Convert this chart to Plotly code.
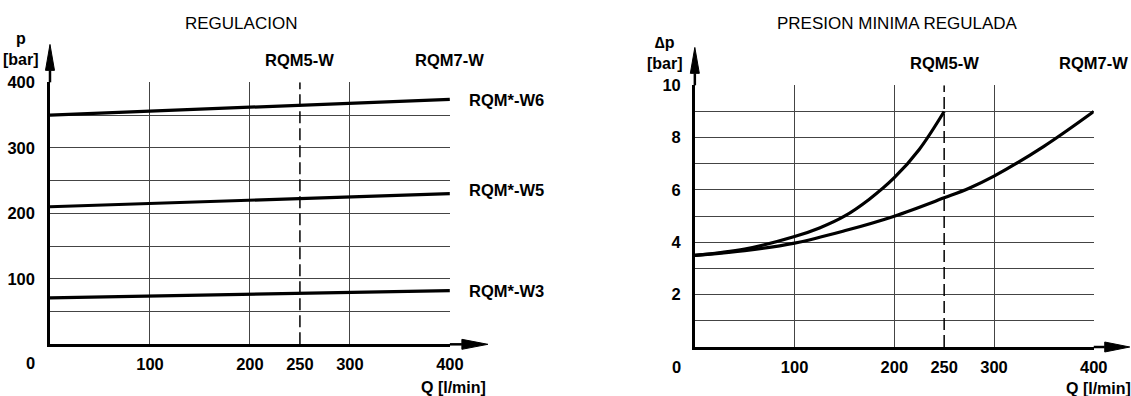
import plotly.graph_objects as go

# ---------------- data ----------------
# Left chart: REGULACION (pressure setting vs flow)
q_reg = [0, 400]
p_w6 = [350, 374]
p_w5 = [210, 230]
p_w3 = [71, 82]
reg_labels = ["RQM*-W6", "RQM*-W5", "RQM*-W3"]

# Right chart: PRESION MINIMA REGULADA
q_rqm5 = [0, 50, 100, 125, 150, 175, 200, 225, 250]
dp_rqm5 = [3.5, 3.74, 4.22, 4.55, 5.0, 5.65, 6.47, 7.55, 9.0]
q_rqm7 = [0, 50, 100, 150, 200, 250, 275, 300, 350, 400]
dp_rqm7 = [3.5, 3.68, 3.97, 4.44, 5.0, 5.7, 6.07, 6.53, 7.67, 9.0]

x_ticks = [100, 200, 250, 300, 400]
x_grid = [100, 200, 300, 400]
y_ticks_left = [100, 200, 300, 400]
y_ticks_right = [2, 4, 6, 8, 10]
q_limit_rqm5 = 250
q_limit_rqm7 = 400

# ---------------- layout helpers ----------------
W, H = 1145, 396
SX, SY, OY = 0.988, 0.981, 7.4   # observed render transform compensation

def fx(x):
    return x / SX

def fy(y):
    return (y - OY) / SY

def px(x):
    return fx(x) / W

def py(y):
    return 1 - fy(y) / H

L_X0, L_X1, L_Y0, L_Y1 = 50, 450, 344, 81      # left plot box (target px)
R_X0, R_X1, R_Y0, R_Y1 = 695, 1094, 346.7, 84  # right plot box (target px)

FONT = "Liberation Sans"
GRID = "#444444"
tickfont = dict(family=FONT, size=16.5, color="black", weight="bold")

fig = go.Figure()

line_style = dict(color="black", width=3.2)
for vals in (p_w6, p_w5, p_w3):
    fig.add_trace(go.Scatter(x=q_reg, y=vals, mode="lines", line=line_style,
                             xaxis="x", yaxis="y", hoverinfo="skip"))

fig.add_trace(go.Scatter(x=q_rqm5, y=dp_rqm5, mode="lines",
                         line=dict(color="black", width=3.2, shape="spline", smoothing=1.0),
                         xaxis="x2", yaxis="y2", hoverinfo="skip"))
fig.add_trace(go.Scatter(x=q_rqm7, y=dp_rqm7, mode="lines",
                         line=dict(color="black", width=3.2, shape="spline", smoothing=1.0),
                         xaxis="x2", yaxis="y2", hoverinfo="skip"))

def xaxis_cfg(x0, x1):
    return dict(domain=[px(x0), px(x1)], range=[0, 400], tickvals=x_ticks,
                ticktext=[str(v) for v in x_ticks], showgrid=False, zeroline=False,
                showline=True, linecolor="black", linewidth=2.5, ticks="",
                ticklabelstandoff=3, tickfont=tickfont, fixedrange=True,
                minor=dict(tickvals=x_grid, showgrid=True, gridcolor=GRID, gridwidth=1, ticks=""))

fig.update_layout(
    width=W, height=H, margin=dict(l=0, r=0, t=0, b=0),
    paper_bgcolor="white", plot_bgcolor="white", showlegend=False,
    xaxis=dict(xaxis_cfg(L_X0, L_X1), anchor="y"),
    yaxis=dict(domain=[py(L_Y0), py(L_Y1)], range=[0, 400], tickvals=y_ticks_left,
               showgrid=True, gridcolor=GRID, gridwidth=1, zeroline=False,
               showline=True, linecolor="black", linewidth=2.5, ticks="",
               ticklabelstandoff=9, tickfont=tickfont, fixedrange=True, anchor="x",
               minor=dict(dtick=50, showgrid=True, gridcolor=GRID, gridwidth=1, ticks="")),
    xaxis2=dict(xaxis_cfg(R_X0, R_X1), anchor="y2"),
    yaxis2=dict(domain=[py(R_Y0), py(R_Y1)], range=[0, 10], tickvals=y_ticks_right,
                showgrid=True, gridcolor=GRID, gridwidth=1, zeroline=False,
                showline=True, linecolor="black", linewidth=2.5, ticks="",
                ticklabelstandoff=8, tickfont=tickfont, fixedrange=True, anchor="x2",
                minor=dict(dtick=1, showgrid=True, gridcolor=GRID, gridwidth=1, ticks="")),
)

shapes = []
# dashed limit lines at 250
shapes.append(dict(type="line", xref="x", yref="y", x0=q_limit_rqm5, x1=q_limit_rqm5,
                   y0=0, y1=400, line=dict(color="black", width=1.5, dash="12px,5px")))
shapes.append(dict(type="line", xref="x2", yref="y2", x0=q_limit_rqm5, x1=q_limit_rqm5,
                   y0=0, y1=10, line=dict(color="black", width=1.5, dash="12px,5px")))

def arrow_up(x, ytop, ybase, ytip):
    shapes.append(dict(type="line", xref="paper", yref="paper", x0=px(x), x1=px(x),
                       y0=py(ytop), y1=py(ybase), line=dict(color="black", width=2.5)))
    path = f"M {px(x-4.5)},{py(ybase)} L {px(x+4.5)},{py(ybase)} L {px(x)},{py(ytip)} Z"
    shapes.append(dict(type="path", xref="paper", yref="paper", path=path,
                       fillcolor="black", line=dict(color="black", width=1)))

def arrow_right(y, xend, xbase, xtip):
    shapes.append(dict(type="line", xref="paper", yref="paper", x0=px(xend), x1=px(xbase),
                       y0=py(y), y1=py(y), line=dict(color="black", width=2.5)))
    path = f"M {px(xbase)},{py(y-5)} L {px(xbase)},{py(y+5)} L {px(xtip)},{py(y)} Z"
    shapes.append(dict(type="path", xref="paper", yref="paper", path=path,
                       fillcolor="black", line=dict(color="black", width=1)))

arrow_up(L_X0, L_Y1, 69, 43)
arrow_right(L_Y0, L_X1, 462, 488)
arrow_up(R_X0, R_Y1, 72, 46)
arrow_right(R_Y0, R_X1, 1105, 1130)
fig.update_layout(shapes=shapes)

ann = []
def text(x, y, s, size=16.5, bold=True, xanchor="center", yanchor="middle", xref="paper", yref="paper",
         xshift=0, yshift=0):
    ann.append(dict(x=x, y=y, xref=xref, yref=yref, text=s, showarrow=False,
                    xanchor=xanchor, yanchor=yanchor, xshift=xshift, yshift=yshift,
                    font=dict(family=FONT, size=size, color="black",
                              weight="bold" if bold else "normal")))

# titles
text(px(241), py(22), "REGULACION", size=17, bold=False)
text(px(898), py(22), "PRESION MINIMA REGULADA", size=17, bold=False)
# axis titles
text(px(21), py(48), "p<br>[bar]", size=16)
text(px(665), py(52), "∆p<br>[bar]", size=16)
text(px(454), py(387), "Q [l/min]", size=16)
text(px(1099), py(388), "Q [l/min]", size=16)
# zeros
text(0, 0, "0", xref="x", yref="y", xshift=-19, yshift=-19)
text(0, 0, "0", xref="x2", yref="y2", xshift=-18, yshift=-20)
# model labels
text(q_limit_rqm5, 400, "RQM5-W", xref="x", yref="y", yshift=22)
text(q_limit_rqm7, 400, "RQM7-W", xref="x", yref="y", yshift=22)
text(q_limit_rqm5, 10, "RQM5-W", xref="x2", yref="y2", yshift=22)
text(q_limit_rqm7, 10, "RQM7-W", xref="x2", yref="y2", yshift=22)
# regulation series labels
for lab, vals, ys in zip(reg_labels, (p_w6, p_w5, p_w3), (-1, 4, 0)):
    text(q_reg[-1], vals[-1], lab, xref="x", yref="y", xanchor="left", xshift=17, yshift=ys)

fig.update_layout(annotations=ann)
fig.write_html("out.html", config={"displayModeBar": False},
               post_script="document.body.style.margin='0';document.body.style.overflow='hidden';")
